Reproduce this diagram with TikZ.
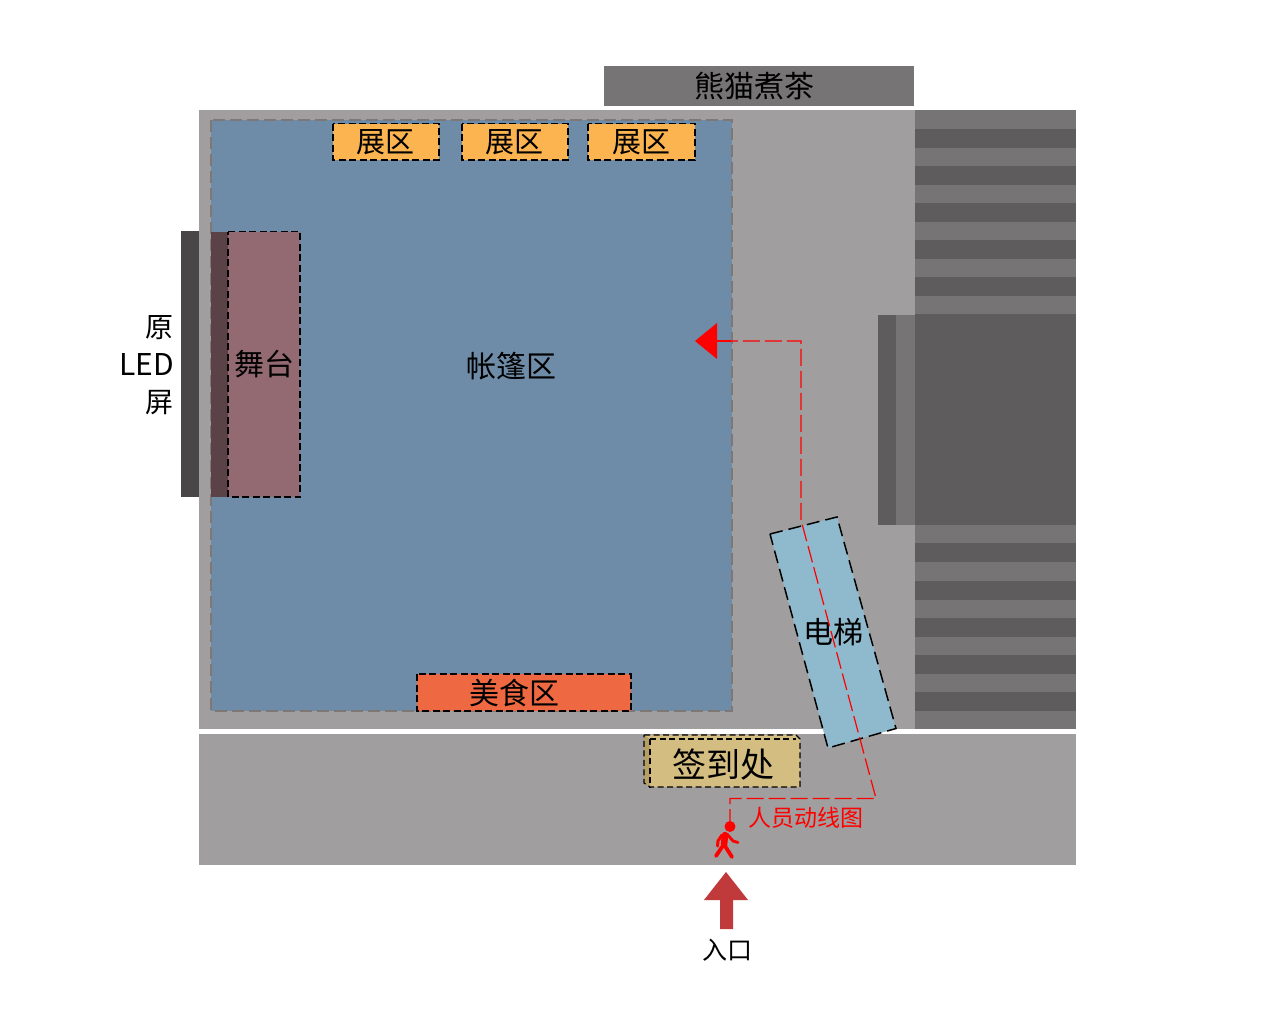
\documentclass[tikz,border=0pt]{standalone}
\usepackage{fontspec}
\setmainfont{Noto Sans CJK SC}
\definecolor{hall}{HTML}{A09E9F}
\definecolor{stairlight}{HTML}{767475}
\definecolor{stairdark}{HTML}{5E5C5D}
\definecolor{tent}{HTML}{6E8CA8}
\definecolor{tentedge}{HTML}{7D7875}
\definecolor{stagedark}{HTML}{5A4247}
\definecolor{stagelight}{HTML}{936A72}
\definecolor{ledwall}{HTML}{484647}
\definecolor{expo}{HTML}{FBB450}
\definecolor{food}{HTML}{EE6841}
\definecolor{lift}{HTML}{8FBACD}
\definecolor{desk}{HTML}{D4BD81}
\definecolor{deskside}{HTML}{B59F62}
\definecolor{entry}{HTML}{C0393B}
\tikzset{
 x=1pt,y=-1pt,
 dashbox/.style={draw=black,line width=1.2pt,dash pattern=on 7pt off 3.5pt},
 zonetext/.style={inner sep=0pt,text=black,font=\fontsize{30}{30}\selectfont},
 route/.style={draw=red,line width=1.2pt,dash pattern=on 17pt off 5pt,line join=miter},
 walker/.style={draw=red,line cap=round,line join=round},
}
\begin{document}
\begin{tikzpicture}
\useasboundingbox (0,0) rectangle (1280,1036);
\fill[white] (0,0) rectangle (1280,1036);
% floors
\fill[hall] (199,110) rectangle (1076,728.5);
\fill[hall] (199,734) rectangle (1076,864.5);
% cafe
\fill[stairlight] (604,66) rectangle (914,106);
\node[zonetext] (cafe) at (754,86) {熊猫煮茶};
% stairs
\fill[stairlight] (915,110) rectangle (1076,728.5);
\foreach \a/\b in {129/147.5,166/184.5,203/221.5,240/258.5,277/296,314/525,543/562,581/599.5,618/636.5,655/673.5,692/710.5}
  \fill[stairdark] (915,\a) rectangle (1076,\b);
\fill[stairdark] (878,314.5) rectangle (896,525);
\fill[stairlight] (896,314.5) rectangle (915,525);
% LED wall
\fill[ledwall] (181,231) rectangle (199,497);
\node[inner sep=0pt,anchor=east,text=black,font=\fontsize{28}{28}\selectfont] (ledtop) at (174,328) {原};
\node[inner sep=0pt,anchor=east,text=black,font=\fontsize{30}{30}\selectfont] (ledmid) at (174,365) {LED};
\node[inner sep=0pt,anchor=east,text=black,font=\fontsize{28}{28}\selectfont] (ledbot) at (174,403) {屏};
% tent
\fill[tent] (211,120) rectangle (732,711);
\draw[draw=tentedge,line width=1.1pt,dash pattern=on 12pt off 5pt] (211,120) rectangle (732,711);
\node[zonetext] (tentlabel) at (511,366) {帐篷区};
% stage
\fill[stagedark] (211,231.5) rectangle (228,497);
\fill[stagelight] (228,231.5) rectangle (300,497);
\draw[dashbox] (228,231.5) -- (300,231.5) -- (300,497) -- (228,497) -- cycle;
\node[zonetext] (stage) at (264,364) {舞台};
% expo
\foreach \n/\xa/\xb in {ea/333/439,eb/462/568,ec/588/695}{
  \fill[expo] (\xa,123.5) rectangle (\xb,160);
  \draw[dashbox] (\xa,123.5) rectangle (\xb,160);
}
\node[zonetext,font=\fontsize{29}{29}\selectfont] (expoa) at (385.5,142) {展区};
\node[zonetext,font=\fontsize{29}{29}\selectfont] (expob) at (514.5,142) {展区};
\node[zonetext,font=\fontsize{29}{29}\selectfont] (expoc) at (641,142) {展区};
% food
\fill[food] (417,674) rectangle (631,711);
\draw[dashbox] (417,674) rectangle (631,711);
\node[zonetext] (foodlabel) at (514.5,692.5) {美食区};
% sign-in desk
\fill[deskside] (644,735) -- (650,739) -- (650,787) -- (644,783) -- cycle;
\fill[desk] (644,735) -- (796,735) -- (800,739) -- (800,787) -- (650,787) -- (650,739) -- cycle;
\draw[draw=black,line width=1.2pt,dash pattern=on 6pt off 3.5pt] (644,735) -- (796,735) -- (800,739) -- (800,787) -- (650,787) -- (644,783) -- cycle;
\draw[draw=black,line width=1.2pt,dash pattern=on 6pt off 3.5pt] (650,739) -- (796,739);
\draw[draw=black,line width=1.2pt,dash pattern=on 6pt off 3.5pt] (650,739) -- (650,787);
\node[zonetext,font=\fontsize{34}{34}\selectfont] (desklabel) at (723,765) {签到处};
% lift
\fill[lift] (770,534) -- (837,517) -- (896,728.5) -- (828,748) -- cycle;
\draw[dashbox,line width=1.5pt,dash pattern=on 13pt off 6pt] (770,534) -- (837,517) -- (896,728.5) -- (828,748) -- cycle;
\node[zonetext] (liftlabel) at (833,632) {电梯};
% route
\coordinate (start) at (730,826);
\coordinate (corner1) at (730,798.5);
\coordinate (corner2) at (876,798.5);
\coordinate (corner3) at (801,520);
\coordinate (corner4) at (801,341);
\coordinate (tip) at (716,341);
\draw[route] (start) -- (corner1) -- (corner2) -- (corner3) -- (corner4) -- (tip);
\draw[draw=red,line width=1.2pt] (tip) -- (731,341);
\fill[red] (695,341) -- (717,323) -- (717,359) -- cycle;
\node[inner sep=0pt,text=red,font=\fontsize{23}{23}\selectfont] (routelabel) at (805.5,818) {人员动线图};
% walker
\fill[red] (730,826.5) circle (5.5);
\draw[walker,line width=6.5pt] (725,835) -- (724,845);
\draw[walker,line width=3.8pt] (725,846) -- (732,857);
\draw[walker,line width=3.8pt] (722,847) -- (716,856);
\draw[walker,line width=2.8pt] (727,834) -- (733,841) -- (738,842.5);
\draw[walker,line width=3pt] (722,835) -- (718,841) -- (717.5,846);
% entrance arrow
\fill[entry] (726,872) -- (748,900) -- (733,900) -- (733,929) -- (720,929) -- (720,900) -- (704,900) -- cycle;
\node[inner sep=0pt,text=black,font=\fontsize{25}{25}\selectfont] (entrance) at (727,950) {入口};
\end{tikzpicture}
\end{document}
